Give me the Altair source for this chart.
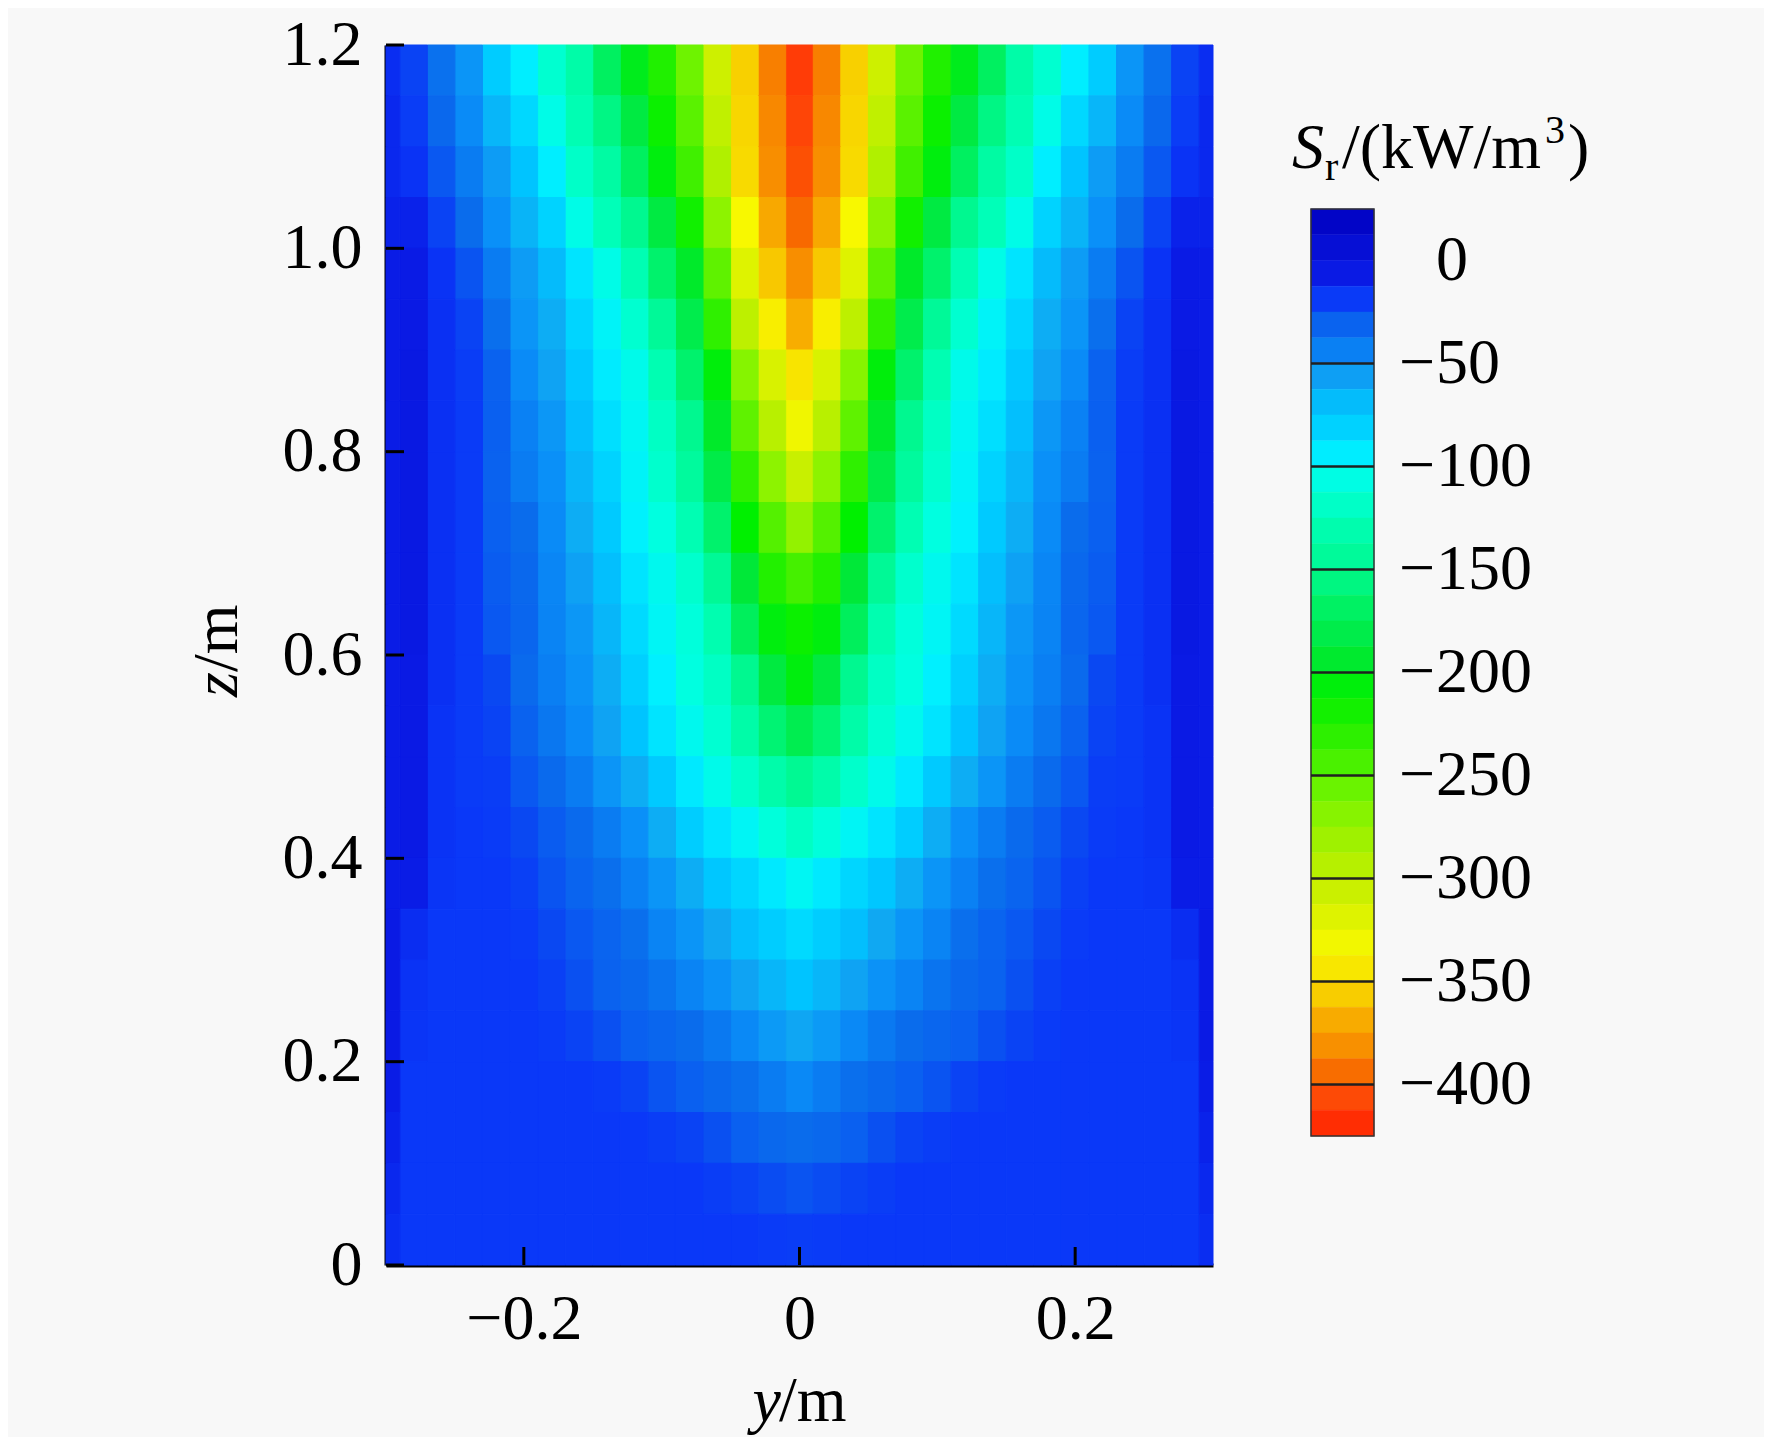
import altair as alt
import pandas as pd

# ---------------- data ----------------
# cell centres in z (m), 0.05 m tall rows
z_centers = [1.175, 1.125, 1.075, 1.025, 0.975, 0.925, 0.875, 0.825, 0.775, 0.725,
             0.675, 0.625, 0.575, 0.525, 0.475, 0.425, 0.375, 0.325, 0.275, 0.225,
             0.175, 0.125, 0.075, 0.025]
# |y| cell centres (m), 0.02 m wide cells, mirrored to both sides
y_offsets = [0.0, 0.02, 0.04, 0.06, 0.08, 0.10, 0.12, 0.14, 0.16, 0.18, 0.20, 0.22, 0.24, 0.26, 0.28]
# S_r (kW/m^3) per row, from centre outwards
sr_rows = [
    [-412, -388, -355, -308, -258, -225, -200, -170, -135, -115, -94, -77, -52, -38, -22],
    [-408, -385, -352, -300, -250, -215, -185, -155, -128, -105, -85, -66, -48, -34, -20],
    [-404, -382, -350, -290, -240, -205, -170, -138, -118, -94, -72, -55, -42, -28, -16],
    [-395, -370, -335, -272, -218, -185, -150, -125, -105, -82, -65, -50, -36, -22, -10],
    [-382, -358, -319, -252, -195, -165, -128, -105, -90, -68, -55, -42, -27, -16, -7],
    [-368, -340, -298, -232, -180, -145, -115, -98, -83, -62, -52, -37, -22, -15, -6],
    [-345, -315, -268, -206, -165, -129, -104, -93, -75, -58, -48, -31, -20, -15, -5],
    [-330, -295, -252, -195, -150, -120, -100, -88, -70, -53, -44, -30, -19, -15, -5],
    [-305, -272, -232, -182, -142, -116, -98, -82, -66, -50, -42, -31, -19, -15, -5],
    [-275, -248, -210, -165, -128, -108, -96, -76, -62, -48, -36, -30, -19, -15, -5],
    [-242, -226, -190, -146, -116, -102, -90, -70, -57, -46, -34, -29, -19, -15, -5],
    [-215, -205, -172, -130, -110, -99, -86, -66, -53, -45, -33, -28, -19, -15, -5],
    [-205, -186, -150, -120, -108, -95, -80, -62, -51, -43, -35, -24, -19, -15, -6],
    [-178, -162, -135, -114, -102, -90, -72, -58, -48, -40, -31, -22, -19, -16, -6],
    [-148, -134, -117, -104, -92, -76, -62, -52, -42, -35, -28, -20, -19, -16, -6],
    [-120, -110, -99, -90, -78, -62, -50, -42, -35, -29, -24, -19, -18, -16, -6],
    [-100, -92, -84, -74, -62, -52, -44, -37, -32, -27, -21, -18, -18, -17, -8],
    [-86, -78, -70, -60, -52, -45, -37, -32, -28, -24, -19, -18, -18, -18, -14],
    [-72, -66, -58, -51, -45, -39, -34, -31, -26, -21, -18, -18, -18, -18, -16],
    [-59, -54, -47, -41, -36, -33, -30, -26, -22, -19, -18, -18, -18, -18, -17],
    [-47, -42, -37, -34, -30, -27, -22, -19, -18, -18, -18, -18, -18, -18, -18],
    [-36, -34, -30, -26, -22, -20, -18, -18, -18, -18, -18, -18, -18, -18, -18],
    [-27, -25, -22, -20, -18, -18, -18, -18, -18, -18, -18, -18, -18, -18, -18],
    [-20, -19, -18, -18, -18, -18, -18, -18, -18, -18, -18, -18, -18, -18, -18],
]
# thin outermost strip (0.29..0.30 m) on each side
edge_values = [-14, -12, -12, -10, -8, -8, -8, -8, -8, -8, -8, -8, -8, -8, -8, -8,
               -8, -6, -6, -6, -8, -10, -12, -14]

# colour map
stop_values = [-425, -410, -398, -385, -370, -355, -335, -310, -290, -265, -240, -210,
               -190, -170, -150, -125, -108, -95, -85, -72, -60, -50, -42, -36, -30,
               -24, -18, -12, -8, 0, 25]
stop_colors = ["#ff2000", "#ff4008", "#f86000", "#f88800", "#f8a800", "#f8d000", "#f8f800",
               "#d0f000", "#b0f000", "#80f400", "#40f000", "#00f000", "#00e838", "#00f060",
               "#00f890", "#00ffb8", "#00ffe0", "#00f0ff", "#00d8ff", "#00c4ff", "#10a8f2",
               "#0a90f8", "#0a7cf2", "#0a6cec", "#0a60f0", "#0a48f2", "#0a38f8", "#0a28ee",
               "#0a1ce6", "#0814dc", "#0000c0"]

y_ticks = [-0.2, 0.0, 0.2]
z_ticks = [0.0, 0.2, 0.4, 0.6, 0.8, 1.0, 1.2]
cbar_ticks = [0, -50, -100, -150, -200, -250, -300, -350, -400]
cbar_edges = [25 - 12.5 * i for i in range(37)]

# ---------------- tables ----------------
cells = []
for zc, row, ev in zip(z_centers, sr_rows, edge_values):
    for k, (yo, v) in enumerate(zip(y_offsets, row)):
        cells.append((yo - 0.01, yo + 0.01, zc - 0.025, zc + 0.025, v))
        if k > 0:
            cells.append((-yo - 0.01, -yo + 0.01, zc - 0.025, zc + 0.025, v))
    cells.append((0.29, 0.30, zc - 0.025, zc + 0.025, ev))
    cells.append((-0.30, -0.29, zc - 0.025, zc + 0.025, ev))
cells = pd.DataFrame(cells, columns=["y0", "y1", "z0", "z1", "sr"])

cbar = pd.DataFrame({"top": cbar_edges[:-1], "bot": cbar_edges[1:]})
cbar["mid"] = (cbar["top"] + cbar["bot"]) / 2
ticks_df = pd.DataFrame({"v": cbar_ticks,
                         "num": [str(abs(v)) for v in cbar_ticks],
                         "neg": [v < 0 for v in cbar_ticks]})

# ---------------- styling ----------------
FONT = "Liberation Serif"
FS = 64
W, H = 827, 1220

x_scale = alt.Scale(domain=[-0.3, 0.3], nice=False, zero=False)
z_scale = alt.Scale(domain=[0, 1.2], nice=False, zero=False)
c_scale = alt.Scale(domain=stop_values, range=stop_colors, interpolate="rgb")
cb_scale = alt.Scale(domain=[25, -425], range=[164, 1091], nice=False, zero=False)

x_axis = alt.Axis(values=y_ticks, title=None, grid=False, ticks=False, tickSize=0,
                  labelFont=FONT, labelFontSize=FS, labelColor="black", labelPadding=22,
                  labelAngle=0, labelFlush=False, labelOverlap=False,
                  labelExpr="datum.value == 0 ? '0' : replace(format(datum.value, '.1f'), '-', '\u2212')",
                  domainColor="black", domainWidth=4)
z_axis = alt.Axis(values=z_ticks, title=None, grid=False, ticks=False, tickSize=0,
                  labelFont=FONT, labelFontSize=FS, labelColor="black", labelPadding=24,
                  labelFlush=False, labelOverlap=False,
                  labelExpr="datum.value == 0 ? '0' : format(datum.value, '.1f')",
                  domainColor="black", domainWidth=4)

heat = alt.Chart(cells).mark_rect(strokeWidth=1).encode(
    x=alt.X("y0:Q", scale=x_scale, axis=x_axis, title=None),
    x2="y1:Q",
    y=alt.Y("z0:Q", scale=z_scale, axis=z_axis, title=None),
    y2="z1:Q",
    color=alt.Color("sr:Q", scale=c_scale, legend=None),
    stroke=alt.Color("sr:Q", scale=c_scale, legend=None),
)

xt = alt.Chart(pd.DataFrame({"yt": y_ticks})).mark_rule(color="black", strokeWidth=3).encode(
    x=alt.X("yt:Q", scale=x_scale, axis=x_axis, title=None), y=alt.value(H), y2=alt.value(H - 18))
zt = alt.Chart(pd.DataFrame({"zt": z_ticks})).mark_rule(color="black", strokeWidth=3).encode(
    y=alt.Y("zt:Q", scale=z_scale, axis=z_axis, title=None), x=alt.value(0), x2=alt.value(18))


def label(txt, x, y, size=FS, italic=False, align="left", angle=0, baseline="alphabetic"):
    kw = dict(font=FONT, fontSize=size, color="black", align=align, baseline=baseline)
    if italic:
        kw["fontStyle"] = "italic"
    if angle:
        kw["angle"] = angle
    return alt.Chart(pd.DataFrame({"t": [txt]})).mark_text(**kw).encode(
        text="t:N", x=alt.value(x), y=alt.value(y))


titles = [
    label("y", 395, 1376, italic=True, align="right"),
    label("/m", 393, 1376),
    label("z", -149, 652, italic=True, angle=270),
    label("/m", -149, 627, angle=270),
    label("S", 906, 123, italic=True),
    label("r", 939, 135, size=40),
    label("/(kW/m", 956, 123),
    label("3", 1159, 98, size=40),
    label(")", 1182, 123),
]

main = alt.layer(heat, xt, zt, *titles)

cb_rect = alt.Chart(cbar).mark_rect(strokeWidth=0.5).encode(
    y=alt.Y("top:Q", scale=cb_scale, axis=None), y2="bot:Q",
    x=alt.value(925), x2=alt.value(988),
    color=alt.Color("mid:Q", scale=c_scale, legend=None),
    stroke=alt.Color("mid:Q", scale=c_scale, legend=None),
)
cb_frame = alt.Chart(pd.DataFrame({"a": [25], "b": [-425]})).mark_rect(
    fillOpacity=0, stroke="#333333", strokeWidth=1.5).encode(
    y=alt.Y("a:Q", scale=cb_scale, axis=None), y2="b:Q",
    x=alt.value(925), x2=alt.value(988))
cb_lines = alt.Chart(ticks_df).transform_filter("datum.v < 0").mark_rule(
    color="#202020", strokeWidth=2.5).encode(
    y=alt.Y("v:Q", scale=cb_scale, axis=None), x=alt.value(925), x2=alt.value(988))
cb_nums = alt.Chart(ticks_df).mark_text(font=FONT, fontSize=FS, color="black",
                                        align="left", baseline="middle").encode(
    y=alt.Y("v:Q", scale=cb_scale, axis=None), x=alt.value(1050), text="num:N")
cb_minus = alt.Chart(ticks_df).transform_filter("datum.neg").mark_text(
    font=FONT, fontSize=FS, color="black", align="left", baseline="middle", text="\u2212").encode(
    y=alt.Y("v:Q", scale=cb_scale, axis=None), x=alt.value(1013))

colorbar = alt.layer(cb_rect, cb_frame, cb_lines, cb_nums, cb_minus)

chart = alt.layer(main, colorbar).resolve_scale(
    x="independent", y="independent"
).resolve_axis(
    x="independent", y="independent"
).properties(
    width=W, height=H,
    padding={"left": 378, "top": 37, "right": 551, "bottom": 172},
    autosize=alt.AutoSizeParams(type="none"),
    background="#f8f8f8",
).configure_view(stroke=None)

chart.save("out.html", embed_options={"renderer": "svg", "actions": False})
